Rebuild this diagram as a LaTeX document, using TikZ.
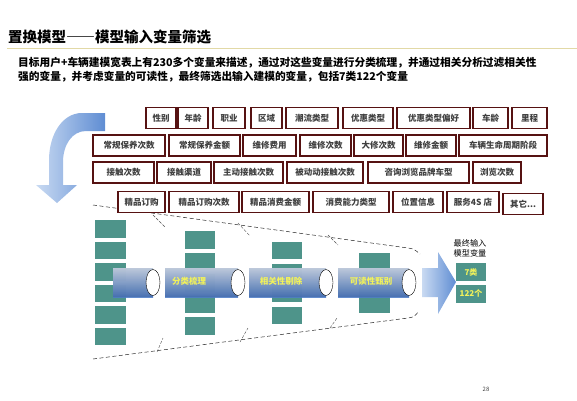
\documentclass[tikz,border=0pt]{standalone}
\usepackage{fontspec}
\setmainfont{Noto Sans CJK SC}
\usepackage{xcolor}
\usepackage{tikz}
\definecolor{boxred}{HTML}{561212}
\definecolor{boxtext}{HTML}{404040}
\definecolor{tealblk}{HTML}{4E948A}
\definecolor{pipetop}{HTML}{D3E0F4}
\definecolor{pipebot}{HTML}{4D7CC6}
\definecolor{labyel}{HTML}{F2F25A}
\definecolor{rulecol}{HTML}{E2D9A6}
\definecolor{arrowlight}{HTML}{C9DAF2}
\definecolor{arrowdark}{HTML}{5F8DD3}

\begin{document}
\begin{tikzpicture}[x=1pt,y=-1pt,
        varbox/.style={draw=boxred,line width=1.2pt,fill=white,text=boxtext,font=\bfseries\fontsize{8.5}{9}\selectfont,minimum height=21pt,inner sep=0pt},
        tealbox/.style={fill=tealblk},
        pipe/.style={top color=pipetop,bottom color=pipebot,opacity=0.88},
        pipeend/.style={draw=black,line width=0.4pt,fill=white},
        funnel/.style={draw=black!85,line width=0.5pt,dash pattern=on 4pt off 2.5pt},
        tick/.style={draw=black!70,line width=0.4pt,dash pattern=on 3pt off 1.5pt},
        pipelabel/.style={text=labyel,font=\bfseries\fontsize{8.5}{9}\selectfont,inner sep=0pt},
        resultbox/.style={fill=tealblk,minimum width=30pt,minimum height=18pt,inner sep=0pt,text=labyel,font=\bfseries\fontsize{8}{9}\selectfont}]
        \useasboundingbox (0,0) rectangle (577,400);

        \node[anchor=base west,inner sep=0pt,font=\bfseries\fontsize{14.5}{15}\selectfont] (title) at (8,42.5) {置换模型{\addfontfeature{CharacterWidth=Full}——}模型输入变量筛选};
        \draw[rulecol,line width=1.5pt] (7,48.5) -- (577,48.5);
        \node[anchor=base west,inner sep=0pt,font=\bfseries\fontsize{10.7}{12}\selectfont] (intro1) at (18,66) {目标用户+车辆建模宽表上有230多个变量来描述，通过对这些变量进行分类梳理，并通过相关分析过滤相关性};
        \node[anchor=base west,inner sep=0pt,font=\bfseries\fontsize{10.7}{12}\selectfont] (intro2) at (18,80) {强的变量，并考虑变量的可读性，最终筛选出输入建模的变量，包括7类122个变量};

        \shade[left color=arrowlight,right color=arrowdark] (105,113) -- (82,113) .. controls (62,113) and (49,135) .. (49,160) -- (49,185) -- (36,185) -- (57,203) -- (77,185) -- (63,185) -- (63,162) .. controls (63,145) and (72,131) .. (86,131) -- (105,131) -- cycle;

        \draw[funnel] (93,205) -- (408,248) .. controls (414,249) .. (420,254);
        \draw[funnel] (93,359) -- (408,318) .. controls (414,317) .. (419,311);
        \draw[tick] (153,215) -- (165,227) (238,223) -- (250,236) (328,235) -- (338,245);
        \draw[tick] (157,352) -- (163,338) (240,342) -- (248,328) (330,328) -- (337,318);

        \foreach \a/\b/\t [count=\i] in {146/176/性别,178/208/年龄,213/245/职业,251/282/区域,286/338/潮流类型,343/393/优惠类型,397/470/优惠类型偏好,473/508/车龄,512/547/里程}
            \node[varbox,minimum width=\b-\a] (ra-\i) at ({(\a+\b)/2},118) {\t};
        \foreach \a/\b/\t [count=\i] in {93/165/常规保养次数,169/240/常规保养金额,243/296/维修费用,300/351/维修次数,354/403/大修次数,406/456/维修金额,459/547/车辆生命周期阶段}
            \node[varbox,minimum width=\b-\a] (rb-\i) at ({(\a+\b)/2},145.5) {\t};
        \foreach \a/\b/\t [count=\i] in {93/154/接触次数,157/211/接触渠道,214/283/主动接触次数,287/363/被动动接触次数,368/469/咨询浏览品牌车型,473/521/浏览次数}
            \node[varbox,minimum width=\b-\a] (rc-\i) at ({(\a+\b)/2},172.5) {\t};
        \foreach \a/\b/\t [count=\i] in {118/165/精品订购,169/239/精品订购次数,242/309/精品消费金额,313/389/消费能力类型,393/443/位置信息,447/499/服务4S 店}
            \node[varbox,minimum width=\b-\a] (rd-\i) at ({(\a+\b)/2},202) {\t};
        \node[varbox,minimum width=40] (rd-7) at (523,204) {其它...};

        \foreach \y in {220,241.5,263,284.5,306,327.5}
            \fill[tealbox] (95,\y) rectangle (126,\y+17.5);
        \foreach \y in {231,252.5,274,295.5,317}
            \fill[tealbox] (185,\y) rectangle (215,\y+17.5);
        \foreach \y in {242,263.5,285,306.5}
            \fill[tealbox] (272,\y) rectangle (302,\y+17);
        \fill[tealbox] (359,253) rectangle (390,313);

        \foreach \a/\b in {113/153,165/238,249/326,338/409} {
            \fill[pipe] (\a,268) rectangle (\b,297);
            \draw[pipeend] (\b,282.5) ellipse [x radius=7pt,y radius=13pt];
        }
        \node[pipelabel] (sort) at (189,281) {分类梳理};
        \node[pipelabel] (corr) at (281,281) {相关性剔除};
        \node[pipelabel] (read) at (371,281) {可读性甄别};

        \shade[left color=arrowlight,right color=arrowdark] (422,268) -- (438,268) -- (438,252) -- (456,282) -- (438,314) -- (438,297) -- (422,297) -- cycle;

        \node[align=center,inner sep=0pt,font=\fontsize{8.2}{10}\selectfont] (final) at (470,248) {最终输入\\模型变量};
        \node[resultbox] (kinds) at (471,272) {7类};
        \node[resultbox] (count) at (471,293.5) {122个};
        \node[inner sep=0pt,text=black!75,font=\fontsize{6}{7}\selectfont] (page) at (486,389) {28};
    \end{tikzpicture}
\end{document}
